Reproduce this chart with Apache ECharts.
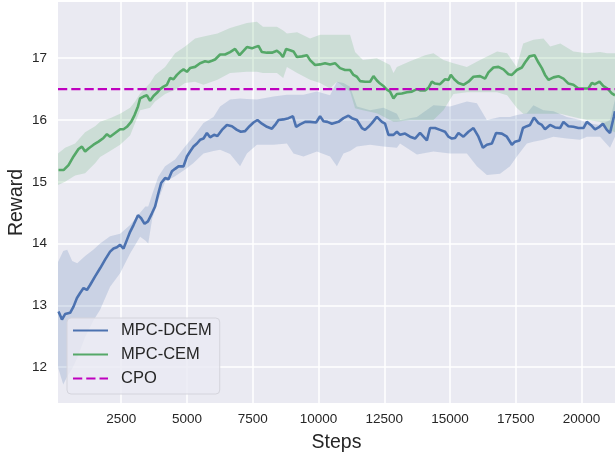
<!DOCTYPE html>
<html>
<head>
<meta charset="utf-8">
<script src="https://cdn.jsdelivr.net/npm/echarts@6/dist/echarts.min.js"></script>
<style>
html,body{margin:0;padding:0;background:#ffffff;}
#chart{width:615px;height:458px;}
</style>
</head>
<body>
<div id="chart"></div>
<script>
// ---------- data ----------
const xTicks = [2500, 5000, 7500, 10000, 12500, 15000, 17500, 20000];
const yTicks = [12, 13, 14, 15, 16, 17];
const seriesNames = ['MPC-DCEM', 'MPC-CEM', 'CPO'];

const dcemSteps = [120,250,370,560,690,820,940,1070,1200,1320,1510,1700,1890,2080,2210,2340,2460,2590,2720,2840,2970,3140,3260,3390,3520,3670,3790,3900,4020,4170,4300,4430,4550,4680,4870,5000,5120,5250,5380,5500,5630,5760,5880,6030,6160,6330,6520,6710,6900,7050,7210,7380,7530,7680,7850,8040,8230,8350,8480,8670,8860,9030,9150,9300,9490,9680,9910,10060,10190,10340,10510,10570,10760,10950,11140,11270,11460,11650,11770,11900,12030,12220,12410,12530,12660,12850,12980,13100,13290,13480,13670,13860,13990,14120,14240,14430,14620,14810,14940,15070,15190,15320,15510,15700,15890,15950,16080,16250,16400,16590,16750,16970,17160,17350,17470,17640,17770,17920,18040,18190,18360,18490,18610,18800,18990,19180,19310,19500,19690,19880,20070,20200,20350,20510,20680,20810,20960,21080,21230,21270];
const dcemReward = [12.90,12.77,12.86,12.88,12.98,13.12,13.20,13.28,13.25,13.33,13.47,13.60,13.74,13.87,13.92,13.94,13.98,13.92,14.06,14.19,14.30,14.46,14.41,14.32,14.36,14.49,14.60,14.79,14.98,15.06,15.04,15.17,15.21,15.25,15.25,15.41,15.49,15.57,15.62,15.68,15.70,15.79,15.72,15.76,15.74,15.84,15.92,15.90,15.84,15.81,15.82,15.90,15.96,16.00,15.94,15.89,15.86,15.92,16.00,16.01,16.03,16.06,15.89,15.93,15.97,15.97,15.96,16.06,15.98,15.97,15.94,15.92,15.97,16.03,16.07,16.03,16.00,15.87,15.84,15.89,15.95,16.05,15.97,15.94,15.76,15.76,15.81,15.76,15.78,15.73,15.70,15.79,15.73,15.67,15.87,15.87,15.84,15.81,15.73,15.70,15.71,15.79,15.73,15.81,15.87,15.87,15.73,15.55,15.60,15.62,15.79,15.78,15.73,15.60,15.65,15.67,15.87,15.90,15.92,16.04,15.95,15.92,15.85,15.92,15.88,15.87,15.97,15.90,15.89,15.87,15.87,15.97,15.92,15.85,15.89,15.94,15.84,15.79,16.06,16.14];

const cemSteps = [120,310,500,690,880,1010,1130,1260,1450,1640,1830,1960,2080,2270,2460,2590,2720,2880,3010,3140,3220,3350,3480,3600,3730,3860,3980,4110,4240,4360,4490,4620,4740,4870,5000,5120,5310,5500,5690,5820,5950,6070,6260,6450,6640,6830,7000,7150,7280,7470,7590,7720,7850,8040,8230,8420,8540,8650,8770,8920,9050,9180,9370,9560,9680,9870,10060,10250,10440,10630,10820,11010,11200,11330,11460,11580,11770,11960,12090,12220,12340,12470,12600,12720,12850,12980,13170,13360,13550,13740,13860,14050,14180,14310,14430,14620,14810,14940,15030,15160,15320,15510,15700,15890,15950,16140,16330,16460,16650,16840,17030,17220,17350,17540,17730,17850,18020,18210,18360,18490,18610,18740,18930,19120,19310,19500,19690,19880,20070,20260,20390,20510,20680,20830,20980,21150,21270];
const cemReward = [15.19,15.19,15.27,15.41,15.53,15.57,15.49,15.54,15.60,15.65,15.71,15.77,15.73,15.79,15.85,15.85,15.89,15.97,16.08,16.22,16.35,16.38,16.40,16.31,16.39,16.44,16.50,16.54,16.57,16.68,16.66,16.73,16.78,16.82,16.78,16.84,16.86,16.92,16.95,16.94,16.96,16.98,17.06,17.06,17.10,17.15,17.05,17.12,17.18,17.16,17.18,17.20,17.10,17.09,17.09,17.12,17.08,17.02,17.15,17.13,17.11,17.02,17.03,17.05,16.97,16.89,16.90,16.92,16.90,16.92,16.84,16.81,16.81,16.73,16.70,16.63,16.62,16.62,16.71,16.64,16.59,16.55,16.49,16.46,16.35,16.42,16.43,16.45,16.46,16.50,16.48,16.48,16.52,16.62,16.59,16.58,16.66,16.65,16.73,16.66,16.60,16.57,16.62,16.70,16.70,16.71,16.67,16.77,16.85,16.86,16.82,16.74,16.73,16.81,16.85,16.93,17.03,17.05,16.93,16.84,16.73,16.65,16.69,16.71,16.67,16.59,16.57,16.51,16.51,16.51,16.60,16.58,16.62,16.55,16.51,16.43,16.40];

const dcemBandSteps = [100,300,450,640,830,1130,1440,1700,2080,2460,2840,3220,3420,3530,3680,3910,4170,4550,4930,5240,5630,6010,6260,6640,7020,7280,7660,8290,8800,9050,9430,9940,10440,10700,10950,11200,11460,11960,12470,12980,13100,13740,14370,15000,15640,16020,16400,16900,17280,17540,17920,18170,18550,18930,19440,19940,20200,20700,21080,21270];
const dcemLower = [12.00,11.72,11.85,11.98,12.15,12.49,12.75,12.93,13.30,13.52,13.84,14.11,14.05,14.00,14.40,14.70,15.00,15.09,15.20,15.30,15.46,15.50,15.52,15.45,15.25,15.46,15.60,15.60,15.62,15.46,15.41,15.49,15.41,15.25,15.46,15.50,15.57,15.60,15.57,15.55,15.62,15.44,15.49,15.46,15.46,15.25,15.11,15.13,15.25,15.41,15.62,15.65,15.68,15.73,15.70,15.68,15.73,15.73,15.55,15.73];
const dcemUpper = [13.70,13.88,13.90,13.72,13.68,13.80,13.90,14.00,14.12,14.16,14.30,14.50,14.60,14.60,14.80,15.08,15.25,15.36,15.57,15.73,15.95,16.05,16.22,16.33,16.35,16.34,16.33,16.38,16.41,16.41,16.41,16.46,16.40,16.62,16.60,16.54,16.22,16.16,16.20,16.10,16.00,16.05,16.24,16.22,16.30,16.27,16.00,16.05,16.05,16.08,16.11,16.24,16.16,16.14,16.05,16.00,15.95,15.92,16.00,16.33];

const cemBandSteps = [100,370,750,1130,1510,1700,2080,2460,2840,3030,3220,3600,3790,4170,4550,4930,5310,5630,6160,6640,7280,7660,7890,8420,8660,8800,9190,9680,10060,10440,10700,11200,11390,11690,12220,12720,12850,12980,13480,14050,14370,14750,15130,15640,16140,16790,17170,17530,17780,18170,18550,18810,19190,19690,20200,20700,20970,21270];
const cemLower = [14.95,15.00,15.10,15.14,15.30,15.40,15.50,15.60,15.75,15.95,16.16,16.20,16.30,16.42,16.49,16.60,16.62,16.57,16.65,16.76,16.78,16.78,16.76,16.76,16.68,16.86,16.76,16.65,16.60,16.51,16.62,16.46,16.19,16.16,16.11,16.00,15.97,15.97,16.00,16.00,16.00,16.16,16.42,16.45,16.45,16.45,16.40,16.20,16.10,16.10,16.10,16.10,16.10,16.05,16.00,15.97,15.85,15.80];
const cemUpper = [15.46,15.55,15.62,15.80,15.90,15.97,16.03,16.10,16.20,16.30,16.43,16.60,16.73,16.86,17.08,17.19,17.32,17.35,17.40,17.49,17.57,17.59,17.51,17.51,17.45,17.40,17.42,17.32,17.38,17.38,17.38,17.38,17.10,16.97,17.00,16.89,16.76,16.86,16.95,17.05,17.08,16.97,16.92,16.86,16.97,17.11,17.08,16.86,17.24,17.30,17.32,17.19,17.24,17.11,17.08,17.10,17.08,17.08];

const cpoReward = 16.5;
const stepRange = [100, 21270];
const rewardRange = [11.42, 17.91];

// ---------- chart ----------
const FONT = 'Liberation Sans, Arial, sans-serif';
const TXT = '#262626';
const BLUE = '#4c72b0', GREEN = '#55a868', MAGENTA = '#bf00bf';

function pairs(xs, ys) { return xs.map((x, i) => [x, ys[i]]); }

function band(name, steps, lower, upper, fill) {
  return {
    id: name, type: 'custom', silent: true, z: 1,
    data: steps.map((s, i) => [s, lower[i], upper[i]]),
    encode: { x: 0, y: [1, 2] },
    renderItem: function (params, api) {
      if (params.dataIndex !== 0) return null;
      const pts = [];
      for (let i = 0; i < steps.length; i++) pts.push(api.coord([steps[i], upper[i]]));
      for (let i = steps.length - 1; i >= 0; i--) pts.push(api.coord([steps[i], lower[i]]));
      return { type: 'polygon', shape: { points: pts }, style: { fill: fill } };
    }
  };
}

const chart = echarts.init(document.getElementById('chart'), null, { renderer: 'canvas' });
chart.setOption({
  animation: false,
  backgroundColor: '#ffffff',
  textStyle: { fontFamily: FONT },
  grid: { left: 58, right: 0, top: 2, bottom: 55, show: true, backgroundColor: '#eaeaf2', borderWidth: 0,
          containLabel: false, outerBoundsMode: 'none' },
  xAxis: {
    type: 'value', min: stepRange[0], max: stepRange[1],
    name: 'Steps', nameLocation: 'middle', nameGap: 30, nameMoveOverlap: false,
    nameTextStyle: { fontSize: 19.5, color: TXT, fontFamily: FONT },
    axisLine: { show: false }, axisTick: { show: false, customValues: xTicks },
    axisLabel: { customValues: xTicks, color: TXT, fontSize: 13.5, margin: 9, fontFamily: FONT,
                 formatter: function (v) { return String(v); } },
    splitLine: { show: true, lineStyle: { color: '#ffffff', width: 1.5 } }
  },
  yAxis: {
    type: 'value', min: rewardRange[0], max: rewardRange[1],
    name: 'Reward', nameLocation: 'middle', nameGap: 31, nameMoveOverlap: false,
    nameTextStyle: { fontSize: 19.5, color: TXT, fontFamily: FONT },
    axisLine: { show: false }, axisTick: { show: false, customValues: yTicks },
    axisLabel: { customValues: yTicks, color: TXT, fontSize: 13.5, margin: 11, fontFamily: FONT,
                 formatter: function (v) { return String(v); } },
    splitLine: { show: true, lineStyle: { color: '#ffffff', width: 1.5 } }
  },
  legend: {
    data: seriesNames,
    orient: 'vertical', left: 67, top: 318,
    padding: [4, 8, 7, 5], itemGap: 7, itemWidth: 35, itemHeight: 17,
    itemStyle: { opacity: 0 },
    backgroundColor: 'rgba(234,234,242,0.8)', borderColor: '#d4d4dc', borderWidth: 1, borderRadius: 4,
    textStyle: { fontSize: 16.5, color: TXT, fontFamily: FONT, padding: [0, 0, 0, 8] }
  },
  series: [
    band('dcemBand', dcemBandSteps, dcemLower, dcemUpper, 'rgba(76,114,176,0.2)'),
    band('cemBand', cemBandSteps, cemLower, cemUpper, 'rgba(85,168,104,0.2)'),
    {
      name: seriesNames[0], type: 'line', z: 3, showSymbol: false, symbol: 'none',
      data: pairs(dcemSteps, dcemReward),
      itemStyle: { color: BLUE }, lineStyle: { color: BLUE, width: 2.6 }
    },
    {
      name: seriesNames[1], type: 'line', z: 3, showSymbol: false, symbol: 'none',
      data: pairs(cemSteps, cemReward),
      itemStyle: { color: GREEN }, lineStyle: { color: GREEN, width: 2.6 }
    },
    {
      name: seriesNames[2], type: 'line', z: 4, showSymbol: false, symbol: 'none',
      data: [[stepRange[0], cpoReward], [stepRange[1], cpoReward]],
      itemStyle: { color: MAGENTA }, lineStyle: { color: MAGENTA, width: 2.4, type: [9.25, 4] }
    }
  ]
});
</script>
</body>
</html>
